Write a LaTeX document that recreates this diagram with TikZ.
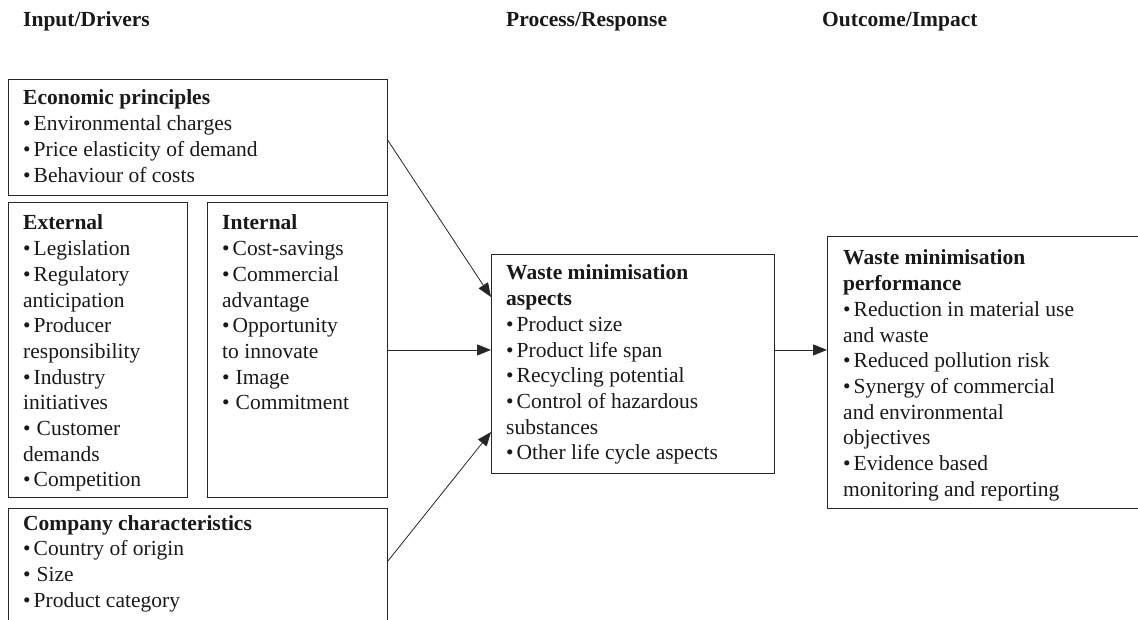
\documentclass[tikz,border=0pt]{standalone}
\usepackage{fontspec}
\setmainfont{Liberation Serif}
\usetikzlibrary{arrows.meta}
\newcommand{\bl}{\textbullet\hspace{3pt}}
\newcommand{\bls}{\textbullet\hspace{6pt}}
\newcommand{\txtlines}[1]{\parbox[t]{400pt}{\fontsize{21.5}{25.7}\selectfont\raggedright #1}}
\begin{document}
\begin{tikzpicture}[x=1pt,y=-1pt,
  box/.style={draw=black!85, line width=0.9pt, rectangle, inner sep=0pt, anchor=north west},
  txt/.style={anchor=base west, inner sep=0pt, text=black!90},
  hdr/.style={anchor=base west, inner sep=0pt, text=black!90, font=\fontsize{21.5}{25.7}\selectfont\bfseries},
  arr/.style={draw=black!85, line width=0.8pt, -{Triangle[length=14pt,width=11pt]}}]
\useasboundingbox (0,0) rectangle (1138,620);
\clip (0,0) rectangle (1138,620);
% headers
\node[hdr] (h1) at (23,27) {Input/Drivers};
\node[hdr] (h2) at (506,27) {Process/Response};
\node[hdr] (h3) at (822,27) {Outcome/Impact};
% boxes
\node[box, minimum width=379pt, minimum height=116pt] (econ) at (8,79) {};
\node[box, minimum width=179pt, minimum height=295pt] (ext) at (8,202) {};
\node[box, minimum width=180pt, minimum height=295pt] (int) at (207,202) {};
\node[box, minimum width=379pt, minimum height=150pt] (comp) at (8,508) {};
\node[box, minimum width=283pt, minimum height=219pt] (asp) at (491,254) {};
\node[box, minimum width=340pt, minimum height=272pt] (perf) at (827,236) {};
% texts
\node[txt] (econT) at (23,105) {\txtlines{\textbf{Economic principles}\\
\bl Environmental charges\\
\bl Price elasticity of demand\\
\bl Behaviour of costs}};
\node[txt] (extT) at (23,230) {\txtlines{\textbf{External}\\
\bl Legislation\\
\bl Regulatory\\
anticipation\\
\bl Producer\\
responsibility\\
\bl Industry\\
initiatives\\
\bls Customer\\
demands\\
\bl Competition}};
\node[txt] (intT) at (222,230) {\txtlines{\textbf{Internal}\\
\bl Cost-savings\\
\bl Commercial\\
advantage\\
\bl Opportunity\\
to innovate\\
\bls Image\\
\bls Commitment}};
\node[txt] (compT) at (23,530) {\txtlines{\textbf{Company characteristics}\\
\bl Country of origin\\
\bls Size\\
\bl Product category}};
\node[txt] (aspT) at (506,280) {\txtlines{\textbf{Waste minimisation}\\
\textbf{aspects}\\
\bl Product size\\
\bl Product life span\\
\bl Recycling potential\\
\bl Control of hazardous\\
substances\\
\bl Other life cycle aspects}};
\node[txt] (perfT) at (843,265) {\txtlines{\textbf{Waste minimisation}\\
\textbf{performance}\\
\bl Reduction in material use\\
and waste\\
\bl Reduced pollution risk\\
\bl Synergy of commercial\\
and environmental\\
objectives\\
\bl Evidence based\\
monitoring and reporting}};
% connectors
\draw[arr] ([yshift=-3pt]econ.east) -- ([yshift=-43pt]asp.north west);
\draw[arr] (int.east) -- (int.east -| asp.west);
\draw[arr] ([yshift=-53pt]comp.north east) -- ([yshift=-178pt]asp.north west);
\draw[arr] (asp.east |- int.east) -- (int.east -| perf.west);
\end{tikzpicture}
\end{document}
